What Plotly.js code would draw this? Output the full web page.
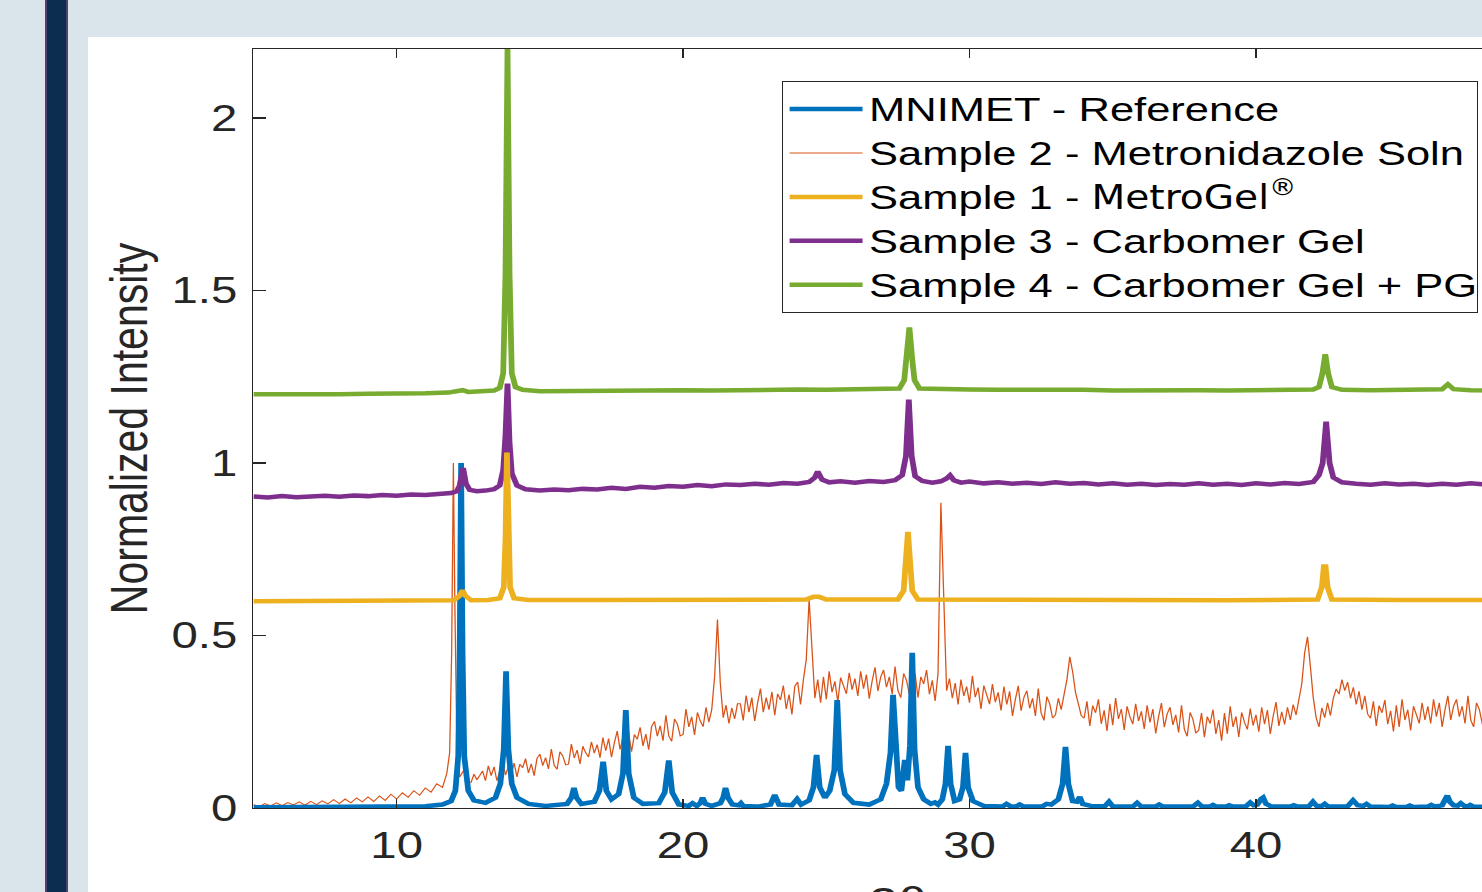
<!DOCTYPE html>
<html>
<head>
<meta charset="utf-8">
<script src="https://cdn.plot.ly/plotly-3.0.1.min.js"></script>
<style>
html,body{margin:0;padding:0;width:1482px;height:892px;overflow:hidden;background:#d9e4eb;}
#bar{position:absolute;left:45px;top:0;width:23px;height:892px;background:#0c2d4e;border-left:2px solid #4f406f;border-right:2px solid #4f406f;box-sizing:border-box;}
#panel{position:absolute;left:88px;top:37px;width:1394px;height:855px;background:#ffffff;}
#plot{position:absolute;left:0;top:0;width:1226px;height:960px;transform:scaleX(1.28);transform-origin:0 0;}
.legendtext{font-size:34px !important;}
#js-plotly-tester .legendtext{font-size:33.6px !important;}
</style>
</head>
<body>
<div id="bar"></div>
<div id="panel"></div>
<div id="plot"></div>
<script>
// ---- data (2θ in degrees, normalized intensity) ----
const seriesNames = ['MNIMET - Reference', 'Sample 2 - Metronidazole Soln',
  'Sample 1 - <span style="font-family:Liberation Sans Narrow, DejaVu Sans Condensed, Roboto Condensed, Liberation Sans">MetroGel<sup>®</sup></span>',
  'Sample 3 - Carbomer Gel', 'Sample 4 - Carbomer Gel + PG'];

const blueX = [
5, 8, 10, 11, 11.6,
11.9, 12.05, 12.15, 12.2, 12.25, 12.3, 12.36, 12.5, 12.7,
13.1, 13.45, 13.62, 13.74, 13.82, 13.9, 14.02, 14.2, 14.6,
15.2,
15.95, 16.1, 16.19, 16.28, 16.45,
16.9, 17.08, 17.21, 17.32, 17.5,
17.75, 17.9, 18.0, 18.1, 18.28, 18.6,
19.15, 19.36, 19.5, 19.62, 19.85,
20.2, 20.33, 20.48, 20.6, 20.68, 20.78, 21.0,
21.3, 21.4, 21.48, 21.57, 21.72,
21.95, 22.02, 22.1, 22.6,
23.05, 23.2, 23.35,
23.8, 23.98, 24.12,
24.4, 24.55, 24.66, 24.77, 24.95,
25.12, 25.28, 25.38, 25.48, 25.65, 25.95,
26.5,
26.9, 27.1, 27.24, 27.33, 27.42, 27.52, 27.62, 27.74, 27.83, 27.92, 28.0, 28.08, 28.2, 28.4, 28.65,
28.79, 28.9,
29.05, 29.16, 29.25, 29.34, 29.48,
29.65, 29.77, 29.86, 29.95, 30.12, 30.5,
31.15, 31.29, 31.45, 31.62, 31.75, 31.9, 32.55, 32.69, 32.85,
33.1, 33.25, 33.35, 33.45, 33.6, 33.75, 33.85, 33.95, 34.3,
34.72, 34.87, 35.0,
35.7, 35.85, 36.0,
36.5, 36.62, 36.75,
37.8, 37.97, 38.12,
38.4, 38.5, 38.62,
38.95, 39.06, 39.2,
39.65, 39.8, 39.92, 40.05, 40.18, 40.25, 40.35, 40.55,
41.2, 41.32, 41.45,
41.85, 41.99, 42.12, 42.3, 42.4, 42.52,
43.2, 43.39, 43.55, 43.75, 43.86, 44.0,
44.65, 44.77, 44.9, 45.25, 45.37, 45.5,
46.0, 46.12, 46.25,
46.5, 46.6, 46.68, 46.77, 46.9, 47.05, 47.15, 47.27, 47.4, 47.48, 47.6, 48.5];
const blueY = [
0.002, 0.002, 0.003, 0.005, 0.010,
0.02, 0.05, 0.15, 0.45, 1.0, 0.45, 0.15, 0.05, 0.022,
0.015, 0.03, 0.07, 0.17, 0.396, 0.17, 0.07, 0.03, 0.012,
0.006,
0.012, 0.03, 0.058, 0.03, 0.012,
0.018, 0.05, 0.134, 0.05, 0.025,
0.04, 0.1, 0.284, 0.1, 0.03, 0.012,
0.014, 0.045, 0.138, 0.045, 0.01,
0.006, 0.014, 0.006, 0.014, 0.03, 0.012, 0.006,
0.014, 0.03, 0.058, 0.03, 0.01,
0.008, 0.014, 0.006, 0.004,
0.01, 0.038, 0.01,
0.008, 0.026, 0.01,
0.022, 0.06, 0.154, 0.06, 0.03,
0.05, 0.11, 0.313, 0.11, 0.04, 0.015,
0.01,
0.025, 0.07, 0.16, 0.328, 0.16, 0.06, 0.05, 0.139, 0.08, 0.18, 0.45, 0.17, 0.06, 0.025, 0.012,
0.016, 0.01,
0.025, 0.07, 0.18, 0.07, 0.02,
0.025, 0.06, 0.16, 0.06, 0.02, 0.006,
0.004, 0.012, 0.004, 0.004, 0.01, 0.004, 0.005, 0.012, 0.01,
0.025, 0.07, 0.177, 0.07, 0.02, 0.018, 0.032, 0.012, 0.005,
0.005, 0.018, 0.005,
0.004, 0.015, 0.004,
0.004, 0.01, 0.004,
0.004, 0.015, 0.004,
0.004, 0.009, 0.004,
0.004, 0.008, 0.004,
0.005, 0.016, 0.008, 0.01, 0.026, 0.03, 0.012, 0.004,
0.004, 0.008, 0.004,
0.005, 0.018, 0.006, 0.006, 0.012, 0.004,
0.005, 0.022, 0.008, 0.006, 0.012, 0.004,
0.003, 0.007, 0.003, 0.003, 0.007, 0.003,
0.004, 0.009, 0.004,
0.008, 0.02, 0.036, 0.018, 0.008, 0.007, 0.014, 0.006, 0.005, 0.009, 0.004, 0.003];

const orangeX = [
5.0, 5.2, 5.4, 5.6, 5.8, 6.0, 6.2, 6.4, 6.6, 6.8,
7.0, 7.2, 7.4, 7.6, 7.8, 8.0, 8.2, 8.4, 8.6, 8.8,
9.0, 9.2, 9.4, 9.6, 9.8, 10.0, 10.2, 10.4, 10.6, 10.8,
11.0, 11.2, 11.4, 11.6, 11.75, 11.85, 11.92, 11.98, 12.03, 12.1, 12.2, 12.35, 12.5,
12.6, 12.7, 12.8, 12.9,
13.0, 13.1, 13.2, 13.3, 13.4, 13.5, 13.6, 13.7, 13.8, 13.9,
14.0, 14.1, 14.2, 14.3, 14.4, 14.5, 14.6, 14.7, 14.8, 14.9,
15.0, 15.1, 15.2, 15.3, 15.4, 15.5, 15.6, 15.7, 15.8, 15.9,
16.0, 16.1, 16.2, 16.3, 16.4, 16.5, 16.6, 16.7, 16.8, 16.9,
17.0, 17.1, 17.2, 17.3, 17.4, 17.5, 17.6, 17.7, 17.8, 17.9,
18.0, 18.1, 18.2, 18.3, 18.4, 18.5, 18.6, 18.7, 18.8, 18.9,
19.0, 19.1, 19.2, 19.3, 19.4, 19.5, 19.6, 19.7, 19.8, 19.9,
20.0, 20.1, 20.2, 20.3, 20.4, 20.5, 20.6, 20.7, 20.8, 20.9,
21.0, 21.1, 21.2, 21.3, 21.4, 21.5, 21.6, 21.7, 21.8, 21.9,
22.0, 22.1, 22.2, 22.3, 22.4, 22.5, 22.6, 22.7, 22.8, 22.9,
23.0, 23.1, 23.2, 23.3, 23.4, 23.5, 23.6, 23.7, 23.8, 23.9,
24.0, 24.1, 24.2, 24.3, 24.4, 24.5, 24.6, 24.7, 24.8, 24.9,
25.0, 25.1, 25.2, 25.3, 25.4, 25.5, 25.6, 25.7, 25.8, 25.9,
26.0, 26.1, 26.2, 26.3, 26.4, 26.5, 26.6, 26.7, 26.8, 26.9,
27.0, 27.1, 27.2, 27.3, 27.4, 27.5, 27.6, 27.7, 27.8, 27.9,
28.0, 28.1, 28.2, 28.3, 28.4, 28.5, 28.6, 28.7, 28.8, 28.9,
29.0, 29.1, 29.2, 29.3, 29.4, 29.5, 29.6, 29.7, 29.8, 29.9,
30.0, 30.1, 30.2, 30.3, 30.4, 30.5, 30.6, 30.7, 30.8, 30.9,
31.0, 31.1, 31.2, 31.3, 31.4, 31.5, 31.6, 31.7, 31.8, 31.9,
32.0, 32.1, 32.2, 32.3, 32.4, 32.5, 32.6, 32.7, 32.8, 32.9,
33.0, 33.1, 33.2, 33.3, 33.4, 33.5, 33.6, 33.7, 33.8, 33.9,
34.0, 34.1, 34.2, 34.3, 34.4, 34.5, 34.6, 34.7, 34.8, 34.9,
35.0, 35.1, 35.2, 35.3, 35.4, 35.5, 35.6, 35.7, 35.8, 35.9,
36.0, 36.1, 36.2, 36.3, 36.4, 36.5, 36.6, 36.7, 36.8, 36.9,
37.0, 37.1, 37.2, 37.3, 37.4, 37.5, 37.6, 37.7, 37.8, 37.9,
38.0, 38.1, 38.2, 38.3, 38.4, 38.5, 38.6, 38.7, 38.8, 38.9,
39.0, 39.1, 39.2, 39.3, 39.4, 39.5, 39.6, 39.7, 39.8, 39.9,
40.0, 40.1, 40.2, 40.3, 40.4, 40.5, 40.6, 40.7, 40.8, 40.9,
41.0, 41.1, 41.2, 41.3, 41.4, 41.5, 41.6, 41.7, 41.8, 41.9,
42.0, 42.1, 42.2, 42.3, 42.4, 42.5, 42.6, 42.7, 42.8, 42.9,
43.0, 43.1, 43.2, 43.3, 43.4, 43.5, 43.6, 43.7, 43.8, 43.9,
44.0, 44.1, 44.2, 44.3, 44.4, 44.5, 44.6, 44.7, 44.8, 44.9,
45.0, 45.1, 45.2, 45.3, 45.4, 45.5, 45.6, 45.7, 45.8, 45.9,
46.0, 46.1, 46.2, 46.3, 46.4, 46.5, 46.6, 46.7, 46.8, 46.9,
47.0, 47.1, 47.2, 47.3, 47.4, 47.5, 47.6, 47.7, 47.8, 47.9,
48.0, 48.1, 48.2, 48.3, 48.4, 48.5, 48.6, 48.7, 48.8, 48.9];
const orangeY = [
0.010, 0.004, 0.013, 0.006, 0.015, 0.007, 0.016, 0.009, 0.018, 0.008,
0.019, 0.010, 0.021, 0.012, 0.024, 0.013, 0.026, 0.015, 0.029, 0.018,
0.032, 0.019, 0.035, 0.022, 0.040, 0.026, 0.044, 0.031, 0.050, 0.037,
0.058, 0.046, 0.070, 0.060, 0.10, 0.16, 0.45, 1.0, 0.6, 0.2, 0.09, 0.11, 0.075,
0.075, 0.098, 0.082, 0.094,
0.107, 0.079, 0.122, 0.094, 0.119, 0.079, 0.110, 0.136, 0.095, 0.121,
0.098, 0.130, 0.090, 0.127, 0.117, 0.143, 0.102, 0.128, 0.094, 0.144,
0.156, 0.123, 0.146, 0.113, 0.171, 0.124, 0.112, 0.163, 0.151, 0.125,
0.127, 0.185, 0.145, 0.168, 0.128, 0.179, 0.160, 0.148, 0.192, 0.159,
0.184, 0.146, 0.204, 0.166, 0.201, 0.147, 0.189, 0.223, 0.170, 0.204,
0.174, 0.216, 0.163, 0.213, 0.199, 0.234, 0.180, 0.214, 0.169, 0.236,
0.251, 0.208, 0.238, 0.195, 0.269, 0.209, 0.193, 0.258, 0.243, 0.209,
0.213, 0.287, 0.235, 0.264, 0.212, 0.277, 0.252, 0.236, 0.292, 0.249,
0.285, 0.380, 0.546, 0.360, 0.262, 0.298, 0.245, 0.290, 0.258, 0.302,
0.302, 0.254, 0.326, 0.278, 0.320, 0.252, 0.304, 0.346, 0.278, 0.320,
0.285, 0.337, 0.269, 0.331, 0.313, 0.355, 0.287, 0.329, 0.271, 0.353,
0.365, 0.300, 0.372, 0.430, 0.605, 0.440, 0.318, 0.372, 0.305, 0.380,
0.315, 0.396, 0.336, 0.367, 0.308, 0.378, 0.350, 0.331, 0.392, 0.343,
0.375, 0.325, 0.396, 0.346, 0.387, 0.317, 0.368, 0.408, 0.339, 0.380,
0.400, 0.350, 0.380, 0.330, 0.410, 0.340, 0.320, 0.390, 0.370, 0.330,
0.340, 0.390, 0.320, 0.380, 0.360, 0.400, 0.330, 0.370, 0.310, 0.390,
0.885, 0.560, 0.340, 0.375, 0.318, 0.362, 0.300, 0.372, 0.325, 0.352,
0.305, 0.383, 0.321, 0.349, 0.287, 0.355, 0.323, 0.301, 0.359, 0.307,
0.335, 0.283, 0.352, 0.300, 0.338, 0.267, 0.315, 0.354, 0.282, 0.321,
0.340, 0.289, 0.318, 0.267, 0.346, 0.275, 0.254, 0.323, 0.302, 0.261,
0.270, 0.318, 0.285, 0.330, 0.372, 0.438, 0.395, 0.335, 0.300, 0.268,
0.260, 0.309, 0.238, 0.297, 0.276, 0.315, 0.244, 0.283, 0.223, 0.302,
0.240, 0.319, 0.258, 0.287, 0.226, 0.295, 0.264, 0.243, 0.302, 0.252,
0.280, 0.229, 0.298, 0.248, 0.287, 0.216, 0.265, 0.304, 0.234, 0.273,
0.292, 0.241, 0.270, 0.219, 0.298, 0.228, 0.208, 0.277, 0.257, 0.217,
0.225, 0.275, 0.205, 0.265, 0.245, 0.285, 0.215, 0.255, 0.195, 0.275,
0.215, 0.295, 0.235, 0.266, 0.206, 0.277, 0.248, 0.228, 0.288, 0.239,
0.270, 0.221, 0.292, 0.243, 0.284, 0.215, 0.266, 0.307, 0.238, 0.279,
0.242, 0.292, 0.255, 0.300, 0.270, 0.318, 0.360, 0.450, 0.496, 0.410,
0.320, 0.262, 0.235, 0.290, 0.262, 0.305, 0.268, 0.318, 0.345, 0.330,
0.372, 0.340, 0.365, 0.318, 0.350, 0.300, 0.338, 0.285, 0.325, 0.272,
0.260, 0.309, 0.238, 0.297, 0.276, 0.313, 0.243, 0.282, 0.222, 0.298,
0.235, 0.315, 0.255, 0.285, 0.225, 0.295, 0.265, 0.245, 0.305, 0.255,
0.295, 0.245, 0.315, 0.265, 0.305, 0.235, 0.285, 0.325, 0.255, 0.295,
0.315, 0.265, 0.295, 0.245, 0.325, 0.255, 0.235, 0.305, 0.285, 0.245,
0.250, 0.300, 0.230, 0.290, 0.270, 0.310, 0.240, 0.280, 0.220, 0.300];

const yellowX = [5, 7, 9, 11, 12.0, 12.2, 12.3, 12.4, 12.6,
13.2, 13.6, 13.74, 13.8, 13.85, 13.9, 13.96, 14.1, 14.6,
17, 20, 23, 24.3, 24.55, 24.75, 25.0,
27.5, 27.7, 27.78, 27.85, 27.92, 28.0, 28.2,
31, 35, 39, 42.15, 42.3, 42.37, 42.43, 42.5, 42.65, 45, 48.5];
const yellowY = [0.599, 0.600, 0.599, 0.601, 0.602, 0.615, 0.631, 0.615, 0.602,
0.603, 0.608, 0.64, 0.78, 1.03, 0.78, 0.64, 0.608, 0.603,
0.603, 0.603, 0.603, 0.604, 0.612, 0.612, 0.604,
0.604, 0.63, 0.72, 0.80, 0.72, 0.63, 0.604,
0.603, 0.603, 0.602, 0.604, 0.64, 0.70, 0.70, 0.64, 0.604, 0.603, 0.603];

const purpleX = [5, 5.5, 6, 6.5, 7, 7.5, 8, 8.5, 9, 9.5, 10, 10.5, 11, 11.5, 11.9,
12.1, 12.2, 12.32, 12.42, 12.55, 12.8, 13.1, 13.4, 13.6, 13.72, 13.8, 13.87, 13.94, 14.02, 14.2, 14.5,
15, 15.5, 16, 16.5, 17, 17.5, 18, 18.5, 19, 19.5, 20, 20.5, 21, 21.5, 22, 22.5, 23, 23.5, 24,
24.4, 24.6, 24.7, 24.85, 25.1, 25.5, 26, 26.5, 27, 27.4, 27.65, 27.78, 27.88, 27.98, 28.1, 28.35, 28.7,
29.0, 29.2, 29.32, 29.45, 29.7, 30, 30.5, 31, 31.5, 32, 32.5, 33, 33.5, 34, 34.5, 35, 35.5, 36, 36.5,
37, 37.5, 38, 38.5, 39, 39.5, 40, 40.5, 41, 41.5, 42, 42.2, 42.33, 42.45, 42.57, 42.7,
43, 43.5, 44, 44.5, 45, 45.5, 46, 46.5, 47, 47.5, 48, 48.5];
const purpleY = [0.903, 0.900, 0.904, 0.901, 0.903, 0.905, 0.902, 0.906, 0.904, 0.907, 0.905, 0.909, 0.907, 0.911, 0.913,
0.918, 0.935, 0.985, 0.94, 0.922, 0.918, 0.920, 0.924, 0.935, 0.98, 1.08, 1.23, 1.06, 0.97, 0.935, 0.924,
0.920, 0.923, 0.921, 0.925, 0.923, 0.928, 0.925, 0.931, 0.928, 0.933, 0.931, 0.936, 0.933, 0.938, 0.936, 0.940, 0.937, 0.942, 0.940,
0.945, 0.958, 0.975, 0.952, 0.944, 0.947, 0.943, 0.948, 0.945, 0.950, 0.965, 1.02, 1.184, 1.02, 0.962, 0.948, 0.943,
0.947, 0.955, 0.964, 0.950, 0.943, 0.946, 0.941, 0.944, 0.940, 0.943, 0.939, 0.944, 0.940, 0.942, 0.938, 0.941, 0.937, 0.940, 0.936,
0.939, 0.937, 0.941, 0.937, 0.940, 0.936, 0.941, 0.938, 0.942, 0.939, 0.945, 0.965, 1.0, 1.12, 1.0, 0.958,
0.944, 0.940, 0.937, 0.941, 0.938, 0.940, 0.936, 0.940, 0.937, 0.941, 0.938, 0.940];

const greenX = [5, 6, 7, 8, 9, 10, 11, 11.8, 12.1, 12.3, 12.5,
13, 13.4, 13.6, 13.72, 13.8, 13.87, 13.94, 14.02, 14.15, 14.4,
15, 16, 17, 18, 19, 20, 21, 22, 23, 24, 25, 26, 27,
27.55, 27.72, 27.8, 27.9, 28.0, 28.08, 28.25,
29, 30, 31, 32, 33, 34, 35, 36, 37, 38, 39, 40, 41, 42,
42.2, 42.32, 42.42, 42.52, 42.65, 43, 44, 45, 46, 46.5, 46.7, 46.9, 47.5, 48.5];
const greenY = [1.199, 1.198, 1.200, 1.199, 1.201, 1.200, 1.202, 1.204, 1.207, 1.211, 1.206,
1.207, 1.210, 1.218, 1.26, 1.55, 2.2, 1.55, 1.26, 1.22, 1.212,
1.208, 1.209, 1.208, 1.210, 1.209, 1.211, 1.210, 1.212, 1.211, 1.213, 1.212, 1.214, 1.213,
1.216, 1.24, 1.30, 1.393, 1.30, 1.24, 1.216,
1.214, 1.213, 1.212, 1.213, 1.211, 1.212, 1.210, 1.211, 1.210, 1.211, 1.210, 1.212, 1.211, 1.213,
1.22, 1.26, 1.315, 1.26, 1.22, 1.212, 1.211, 1.212, 1.211, 1.214, 1.228, 1.214, 1.211, 1.210];

const xTicks = [10, 20, 30, 40];
const yTicks = [0, 0.5, 1, 1.5, 2];
const yTickText = ['0', '0.5', '1', '1.5', '2'];

// ---- traces ----
const C = {blue:'#0072BD', orange:'#D95319', yellow:'#EDB120', purple:'#7E2F8E', green:'#77AC30'};
function tr(x, y, name, color, w, rank) {
  return {x:x, y:y, name:name, type:'scatter', mode:'lines',
    line:{color:color, width:w}, legendrank:rank, hoverinfo:'skip'};
}
const data = [
  tr(orangeX, orangeY, seriesNames[1], C.orange, 1, 2),
  tr(blueX, blueY, seriesNames[0], C.blue, 4.5, 1),
  tr(greenX, greenY, seriesNames[4], C.green, 4.5, 5),
  tr(purpleX, purpleY, seriesNames[3], C.purple, 4.5, 4),
  tr(yellowX, yellowY, seriesNames[2], C.yellow, 4.5, 3)
];

const axisCommon = {
  showline:true, linecolor:'#262626', linewidth:1.2, mirror:'ticks',
  ticks:'inside', tickcolor:'#262626', tickwidth:1.2,
  showgrid:false, zeroline:false, fixedrange:true,
  tickfont:{size:37, color:'#262626', family:'Liberation Sans, Arial, sans-serif'}
};
const layout = {
  width:1226, height:960,
  margin:{l:198, r:21, t:49, b:152, pad:0},
  paper_bgcolor:'rgba(0,0,0,0)', plot_bgcolor:'rgba(0,0,0,0)',
  font:{family:'Liberation Sans, Arial, sans-serif', color:'#262626'},
  showlegend:true,
  xaxis:Object.assign({}, axisCommon, {
    range:[5, 50], tickmode:'array', tickvals:xTicks, ticklen:9, ticklabelstandoff:4,
    title:{text:'2θ', font:{size:41, color:'#262626'}, standoff:22}
  }),
  yaxis:Object.assign({}, axisCommon, {
    range:[0, 2.2], tickmode:'array', tickvals:yTicks, ticktext:yTickText, ticklen:10, ticklabelstandoff:4,
    title:{text:'Normalized Intensity', font:{size:41, color:'#262626'}, standoff:5}
  }),
  legend:{x:0.41, y:0.9578, xanchor:'left', yanchor:'top', bgcolor:'#ffffff',
    bordercolor:'#262626', borderwidth:1, font:{size:31.5, color:'#000000'},
    itemwidth:57, tracegroupgap:0, traceorder:'normal'}
};
Plotly.newPlot('plot', data, layout, {staticPlot:true, displayModeBar:false, responsive:false});
</script>
</body>
</html>
